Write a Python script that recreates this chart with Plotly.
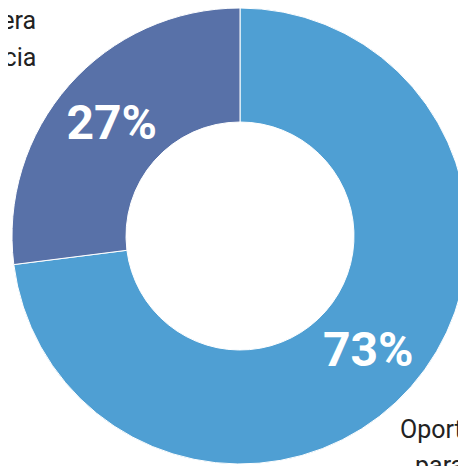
import plotly.graph_objects as go

labels = ["Oportunidad para crecer", "Primera experiencia"]
values = [73, 27]
colors = ["#4f9fd3", "#5871a8"]

W = H = 466

fig = go.Figure(
    go.Pie(
        labels=labels,
        values=values,
        sort=False,
        direction="clockwise",
        rotation=0,
        hole=0.5,
        marker=dict(colors=colors, line=dict(color="white", width=1)),
        textinfo="percent",
        textposition="inside",
        insidetextorientation="horizontal",
        insidetextfont=dict(family="Roboto, sans-serif", size=48, color="white", weight="bold"),
        showlegend=False,
        hoverinfo="label+percent",
        domain=dict(x=[4 / W, 460 / W], y=[10 / H, 1.0]),
    )
)

lab_font = dict(family="Roboto, sans-serif", size=25, color="#222222")


def ann(text, x, y, xanchor):
    return dict(text=text, x=x / W, y=1 - y / H, xref="paper", yref="paper",
                xanchor=xanchor, yanchor="middle", showarrow=False, font=lab_font)


fig.update_layout(
    width=W, height=H,
    margin=dict(l=0, r=0, t=0, b=0),
    paper_bgcolor="white", plot_bgcolor="white",
    annotations=[
        ann("Primera", 30, 12.5, "right"),
        ann("experiencia", 30, 49.5, "right"),
        ann("Oportunidad", 390, 421.5, "left"),
        ann("para crecer", 405, 457, "left"),
    ],
)

fig.write_html("out.html")
